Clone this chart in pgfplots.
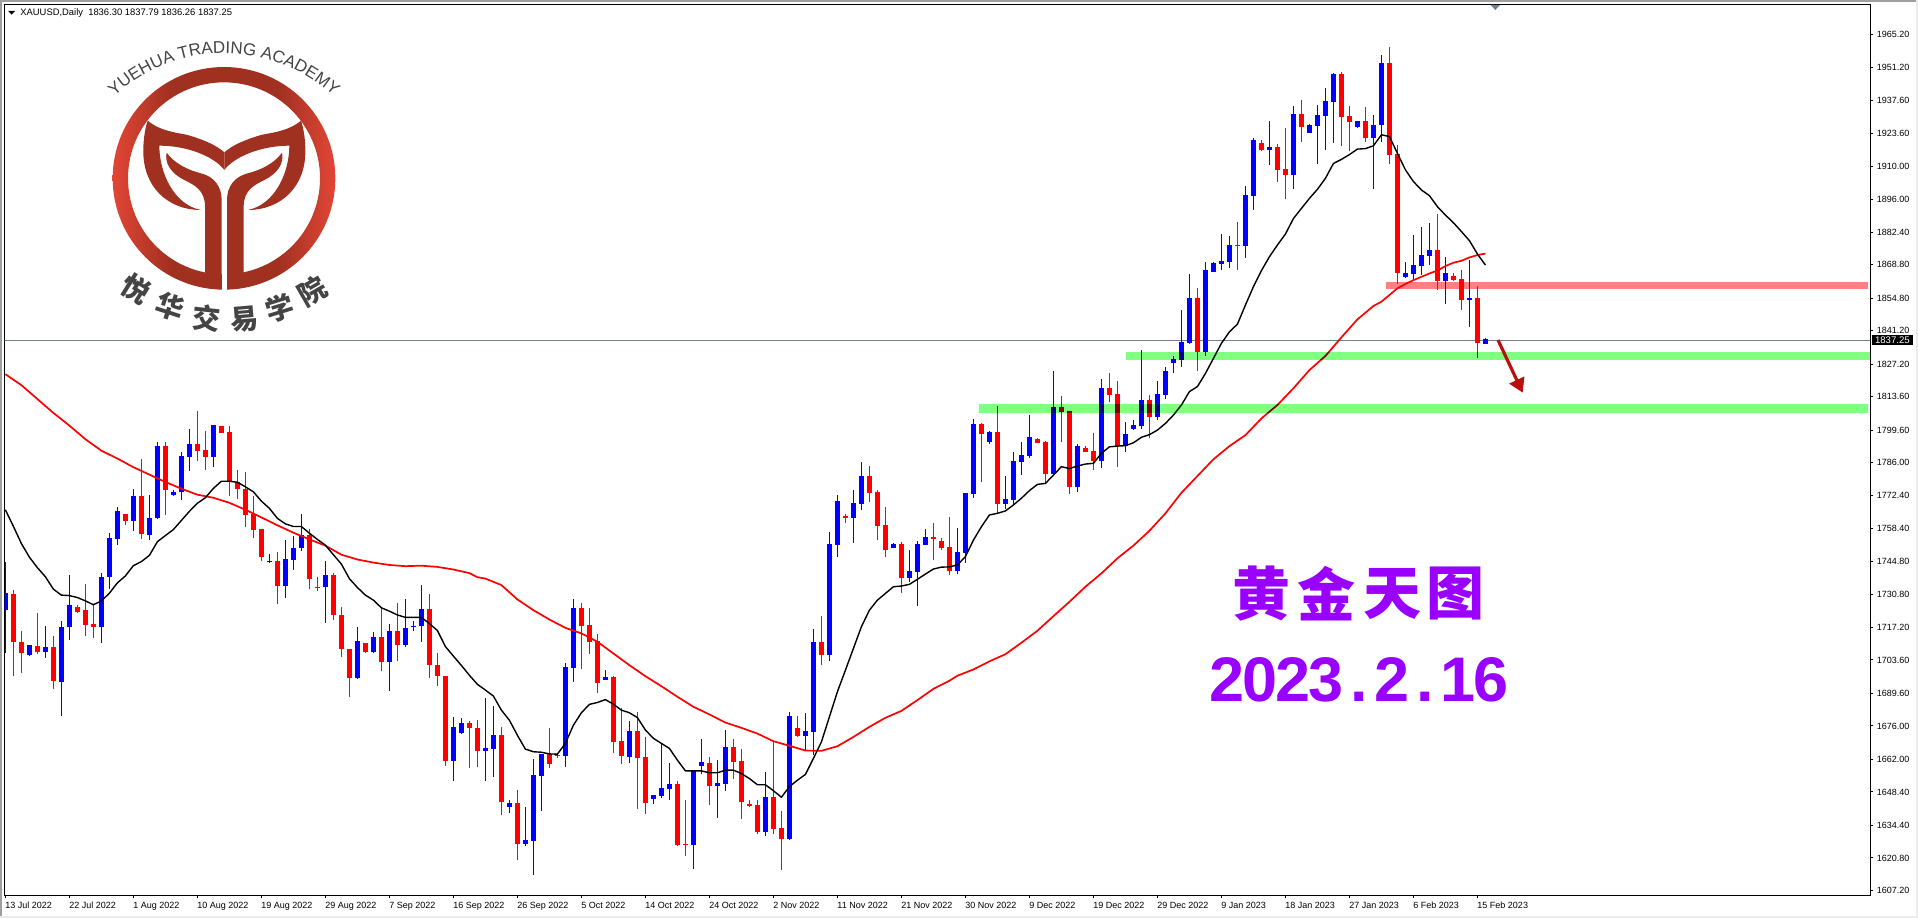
\documentclass[border=0pt]{standalone}
\usepackage{pgfplots}
\usepackage{pgfplotstable}
\pgfplotsset{compat=1.18}
\usepackage{fontspec}
\usetikzlibrary{arrows.meta,decorations.text,shadings}
\setmainfont{Liberation Sans}
\newfontfamily\cjk{Noto Sans CJK SC}
\definecolor{bull}{RGB}{0,0,255}
\definecolor{bear}{RGB}{255,0,0}
\definecolor{lineg}{RGB}{112,128,144}
\definecolor{greenz}{RGB}{128,255,128}
\definecolor{redz}{RGB}{255,128,128}
\definecolor{purp}{RGB}{153,0,255}
\definecolor{logo}{RGB}{160,48,32}
\definecolor{logoe}{RGB}{226,70,54}
\definecolor{logot}{RGB}{68,68,68}
\definecolor{arrowc}{RGB}{185,15,15}
\pgfdeclarehorizontalshading{ringsh}{100bp}{color(0bp)=(logoe); color(25bp)=(logoe); color(38bp)=(logo); color(62bp)=(logo); color(75bp)=(logoe); color(100bp)=(logoe)}

\pgfplotstableread{
i h t b l
0 1744.7 1731.5 1724.3 1706.3
3 1710.0 1709.8 1705.7 1705.4
5 1717.9 1709.2 1707.0 1704.3
7 1719.7 1717.5 1694.2 1680.0
8 1738.9 1726.7 1717.2 1711.8
12 1739.8 1738.1 1717.2 1710.5
13 1756.5 1754.5 1738.2 1733.2
14 1767.4 1765.7 1754.2 1751.6
16 1774.9 1772.0 1761.7 1757.5
18 1772.4 1763.1 1755.8 1753.7
19 1794.6 1793.0 1762.8 1762.4
21 1774.7 1774.0 1772.4 1772.1
22 1790.4 1788.7 1773.9 1770.4
23 1800.0 1793.7 1788.5 1782.6
26 1801.8 1801.8 1788.5 1784.1
33 1747.7 1745.1 1744.8 1744.1
35 1753.6 1745.6 1734.5 1729.7
36 1755.6 1750.6 1745.3 1741.4
37 1764.8 1755.8 1750.3 1749.1
40 1745.1 1738.9 1734.1 1719.2
44 1717.5 1711.6 1696.2 1695.5
46 1715.1 1713.3 1707.0 1706.6
48 1718.8 1715.8 1702.6 1690.5
50 1728.9 1717.1 1709.8 1708.9
51 1719.7 1717.9 1717.5 1715.9
52 1734.8 1724.7 1717.7 1710.9
56 1679.8 1675.7 1661.2 1653.1
57 1679.4 1677.3 1673.1 1672.8
60 1687.6 1666.7 1665.4 1653.0
61 1684.4 1672.1 1666.4 1654.6
63 1645.0 1643.7 1642.2 1639.7
65 1642.2 1628.3 1626.5 1625.8
66 1662.1 1655.4 1628.0 1613.6
67 1664.2 1664.2 1655.1 1640.5
70 1702.2 1700.6 1663.5 1658.9
71 1729.0 1725.2 1700.3 1694.4
75 1699.3 1696.4 1695.4 1695.1
78 1678.0 1673.8 1663.1 1660.6
81 1647.0 1647.0 1645.4 1643.4
82 1668.7 1650.0 1646.7 1645.7
83 1660.4 1651.7 1649.7 1645.1
86 1657.5 1657.2 1626.3 1616.2
87 1670.5 1660.9 1659.2 1656.0
89 1661.7 1652.1 1651.0 1637.6
90 1674.3 1667.1 1651.8 1648.9
95 1656.7 1646.2 1631.7 1630.1
98 1681.8 1680.1 1628.8 1628.4
100 1681.4 1673.8 1671.8 1665.9
101 1716.5 1711.0 1673.5 1663.8
103 1757.0 1752.0 1705.8 1703.2
104 1772.5 1770.0 1751.8 1746.7
106 1774.6 1769.2 1763.0 1752.6
107 1786.3 1780.5 1768.9 1766.4
111 1752.4 1752.0 1750.5 1750.4
113 1749.5 1740.8 1738.0 1736.3
114 1753.3 1752.0 1740.5 1726.3
115 1758.3 1755.0 1751.8 1751.8
119 1758.7 1748.7 1740.9 1739.6
120 1773.4 1773.4 1748.4 1744.2
121 1804.3 1802.2 1773.1 1771.4
123 1799.3 1798.9 1794.7 1794.0
125 1780.5 1770.9 1768.8 1766.7
126 1790.5 1786.8 1770.5 1768.8
127 1794.7 1789.3 1786.4 1781.1
128 1806.0 1796.8 1788.9 1788.2
131 1824.4 1809.4 1781.3 1780.9
134 1793.9 1793.0 1776.0 1773.9
137 1821.1 1817.3 1786.8 1784.0
140 1803.1 1798.1 1793.2 1790.5
141 1803.9 1801.8 1800.2 1799.7
142 1833.2 1812.3 1801.4 1800.3
144 1820.2 1814.8 1805.2 1804.1
145 1826.1 1824.4 1814.4 1812.7
146 1830.7 1829.4 1827.7 1823.5
147 1849.9 1836.5 1829.0 1826.1
148 1865.0 1854.9 1836.1 1835.7
150 1870.0 1866.6 1832.5 1830.8
151 1870.0 1869.6 1865.9 1865.9
152 1881.7 1870.4 1869.1 1866.6
153 1880.8 1877.1 1870.0 1867.5
155 1901.8 1898.0 1876.7 1871.6
156 1921.8 1921.0 1897.6 1891.7
158 1928.9 1918.1 1916.8 1910.5
161 1935.2 1931.9 1906.4 1900.5
163 1927.7 1927.3 1923.9 1923.9
164 1935.6 1931.5 1926.9 1911.0
165 1942.7 1937.3 1931.0 1916.8
166 1949.0 1948.6 1936.9 1919.7
169 1928.9 1928.9 1926.4 1926.0
171 1931.5 1927.3 1921.8 1900.5
172 1956.5 1953.2 1927.3 1920.2
175 1870.0 1865.4 1863.7 1863.3
176 1881.3 1868.7 1865.0 1862.4
177 1884.6 1872.9 1868.3 1864.5
178 1886.3 1875.0 1872.5 1868.7
180 1872.1 1865.4 1862.0 1852.4
183 1870.8 1854.9 1854.1 1842.8
185 1838.0 1837.6 1835.7 1835.7
}\bluebars

\pgfplotstableread{
i h t b l
1 1733.0 1731.3 1710.9 1696.7
2 1715.8 1711.2 1706.3 1698.0
4 1723.4 1709.6 1707.0 1705.9
6 1713.8 1709.2 1694.7 1691.6
9 1726.7 1725.9 1723.8 1723.4
10 1735.5 1724.3 1718.1 1713.8
11 1727.1 1718.8 1717.2 1712.6
15 1764.8 1764.8 1761.7 1759.9
17 1787.5 1772.0 1756.2 1754.0
20 1794.6 1793.0 1774.6 1764.1
24 1807.7 1793.7 1791.0 1786.8
25 1799.2 1791.3 1788.5 1783.1
27 1801.3 1801.3 1798.6 1798.6
28 1801.3 1798.7 1778.2 1772.1
29 1782.9 1778.2 1775.0 1770.7
30 1782.1 1775.2 1764.2 1759.1
31 1772.0 1764.5 1757.9 1754.6
32 1758.2 1758.2 1746.6 1744.8
34 1748.6 1745.1 1734.5 1726.9
38 1758.2 1755.9 1737.4 1733.2
39 1738.1 1734.2 1733.9 1732.5
41 1740.1 1738.9 1722.3 1720.2
42 1725.9 1722.5 1708.0 1704.7
43 1708.3 1708.3 1696.2 1687.9
45 1710.8 1710.8 1707.0 1706.7
47 1725.7 1713.3 1702.6 1698.8
49 1727.6 1715.8 1709.8 1703.0
53 1731.3 1724.7 1701.3 1696.2
54 1706.6 1701.6 1696.7 1692.5
55 1697.0 1697.0 1661.2 1659.4
58 1678.0 1677.3 1675.0 1658.6
59 1678.6 1675.2 1665.5 1658.9
62 1675.5 1672.1 1644.3 1638.8
64 1649.2 1643.7 1626.7 1620.0
68 1675.1 1664.2 1660.1 1658.5
69 1664.5 1663.8 1663.3 1662.6
72 1727.3 1725.2 1717.9 1699.9
73 1725.2 1718.1 1711.2 1706.1
74 1714.4 1711.4 1694.0 1689.8
76 1696.8 1696.4 1669.3 1664.7
77 1683.4 1669.6 1663.5 1660.1
79 1681.8 1673.8 1662.7 1641.3
80 1671.3 1662.9 1643.8 1639.3
84 1652.9 1651.7 1626.2 1625.8
85 1645.0 1626.5 1626.3 1621.7
88 1662.9 1660.4 1651.0 1643.0
91 1670.5 1667.1 1661.0 1653.9
92 1666.3 1661.3 1644.3 1637.2
93 1645.0 1643.3 1642.5 1642.2
94 1645.0 1642.9 1631.7 1630.9
96 1669.3 1646.2 1633.0 1630.9
97 1640.5 1633.3 1628.8 1615.8
99 1680.1 1675.0 1671.9 1671.3
102 1721.9 1711.0 1705.8 1701.4
105 1764.6 1763.7 1763.0 1760.8
108 1784.7 1780.5 1773.5 1769.6
109 1774.6 1773.8 1759.7 1753.9
110 1767.5 1760.0 1749.7 1746.7
112 1752.9 1752.0 1738.0 1731.7
116 1760.8 1755.0 1754.1 1745.5
117 1754.5 1753.3 1750.5 1749.7
118 1763.3 1750.8 1740.9 1739.2
122 1802.7 1802.2 1798.2 1778.1
124 1809.8 1798.9 1768.9 1764.9
129 1796.4 1796.0 1794.3 1794.3
130 1795.1 1794.7 1781.5 1777.6
132 1814.0 1809.4 1807.2 1794.7
133 1807.7 1807.7 1776.0 1773.0
135 1793.0 1792.2 1790.5 1790.5
136 1798.5 1791.0 1786.8 1783.0
138 1823.6 1817.3 1814.4 1811.4
139 1820.2 1814.8 1793.0 1784.4
143 1814.4 1812.3 1805.2 1796.5
149 1859.1 1854.9 1832.3 1824.4
154 1886.7 1877.1 1876.7 1866.6
157 1921.0 1919.7 1916.8 1916.4
159 1919.3 1918.1 1908.5 1903.4
160 1926.0 1908.9 1906.4 1896.3
162 1937.7 1931.9 1926.4 1920.2
167 1949.4 1948.6 1930.6 1918.5
168 1935.2 1931.0 1928.5 1916.4
170 1934.8 1928.9 1921.8 1920.2
173 1959.9 1953.2 1914.7 1911.0
174 1918.9 1915.1 1865.4 1860.8
179 1890.1 1875.0 1862.0 1858.3
181 1865.4 1864.1 1862.4 1862.0
182 1866.6 1862.9 1854.1 1849.9
184 1859.9 1854.9 1836.1 1829.8
}\redbars

\pgfplotstableread{
i v
0 1766.4
1 1759.5
2 1752.3
3 1746.6
4 1742.2
5 1738.4
6 1733.2
7 1730.7
8 1730.5
9 1729.7
10 1728.3
11 1726.7
12 1728.2
13 1731.5
14 1735.8
15 1738.7
16 1743.0
17 1744.7
18 1747.3
19 1753.0
20 1755.6
21 1758.1
22 1761.9
23 1765.7
24 1769.1
25 1771.4
26 1775.3
27 1778.3
28 1778.3
29 1777.9
30 1776.0
31 1773.9
32 1770.0
33 1767.0
34 1762.8
35 1760.5
36 1759.4
37 1759.4
38 1756.6
39 1754.0
40 1751.6
41 1747.6
42 1743.7
43 1737.6
44 1733.9
45 1730.7
46 1728.6
47 1725.4
48 1724.0
49 1722.4
50 1721.4
51 1721.4
52 1721.4
53 1718.8
54 1715.9
55 1709.2
56 1705.2
57 1701.3
58 1697.2
59 1693.4
60 1691.0
61 1688.5
62 1682.6
63 1678.4
64 1672.1
65 1666.3
66 1665.2
67 1665.0
68 1664.3
69 1664.2
70 1668.7
71 1676.3
72 1681.5
73 1685.0
74 1685.8
75 1687.0
76 1685.1
77 1682.6
78 1681.5
79 1679.5
80 1674.3
81 1670.8
82 1668.7
83 1666.6
84 1661.7
85 1657.2
86 1657.2
87 1657.2
88 1656.4
89 1656.4
90 1657.5
91 1657.5
92 1656.1
93 1654.0
94 1651.4
95 1651.4
96 1648.9
97 1646.2
98 1650.6
99 1653.3
100 1655.7
101 1662.4
102 1669.3
103 1679.8
104 1690.3
105 1699.3
106 1708.4
107 1717.5
108 1724.4
109 1728.6
110 1731.4
111 1734.2
112 1734.5
113 1735.2
114 1737.3
115 1739.5
116 1741.6
117 1742.4
118 1742.5
119 1743.3
120 1746.8
121 1753.7
122 1759.3
123 1764.2
124 1764.9
125 1765.9
126 1768.4
127 1771.2
128 1774.4
129 1777.0
130 1777.4
131 1780.9
132 1784.4
133 1783.6
134 1784.7
135 1785.5
136 1785.8
137 1790.0
138 1792.7
139 1793.0
140 1793.2
141 1794.4
142 1796.7
143 1797.8
144 1799.7
145 1802.5
146 1806.0
147 1810.2
148 1815.8
149 1817.9
150 1823.4
151 1829.7
152 1836.0
153 1840.8
154 1844.0
155 1852.0
156 1859.7
157 1866.4
158 1872.2
159 1877.1
160 1881.7
161 1888.2
162 1892.4
163 1896.6
164 1900.4
165 1905.0
166 1911.2
167 1912.9
168 1914.9
169 1917.2
170 1917.4
171 1918.6
172 1923.2
173 1922.4
174 1915.4
175 1908.5
176 1903.6
177 1900.1
178 1897.7
179 1893.1
180 1889.6
181 1886.4
182 1882.7
183 1878.9
184 1873.3
185 1868.7
}\fastma

\pgfplotstableread{
i v
0 1823.1
2 1818.5
4 1812.7
6 1806.9
8 1801.6
10 1795.9
12 1791.1
14 1787.8
16 1784.2
18 1781.1
20 1778.0
22 1775.2
24 1772.7
26 1771.4
28 1769.3
30 1766.4
32 1763.2
34 1759.9
36 1756.8
38 1754.0
40 1751.4
42 1747.6
44 1745.6
46 1744.3
48 1743.3
50 1742.8
52 1743.0
54 1742.5
56 1741.4
58 1739.9
59 1738.2
60 1737.6
62 1734.9
64 1728.9
66 1724.4
68 1720.5
70 1717.0
72 1714.7
74 1711.2
76 1706.3
78 1701.4
80 1696.8
82 1692.6
84 1688.2
86 1684.0
88 1680.8
90 1677.4
92 1675.2
94 1672.8
96 1669.6
98 1667.7
100 1665.7
102 1665.6
104 1667.5
106 1671.4
108 1675.6
110 1679.4
112 1682.3
114 1686.8
116 1691.5
118 1694.9
119 1697.0
121 1699.6
123 1703.0
125 1706.0
127 1710.8
129 1715.8
131 1721.9
133 1727.9
135 1734.2
137 1739.8
139 1746.1
141 1751.4
143 1757.6
145 1764.9
147 1773.5
149 1780.5
151 1787.5
153 1793.0
155 1797.6
157 1804.6
159 1810.2
161 1817.2
163 1824.8
165 1830.7
167 1838.5
169 1846.0
171 1851.6
172 1853.4
173 1856.2
174 1859.0
175 1860.8
176 1862.4
177 1863.8
178 1865.2
179 1866.4
180 1868.3
181 1869.7
182 1870.5
183 1871.9
184 1872.9
185 1873.5
}\slowma

\newcommand{\dg}[1]{\makebox[16.5pt]{#1}}
\newcommand{\logohalf}{%
  \fill[logo] (-230,362) .. controls (-190,395) and (-140,398) .. (-110,405)
    .. controls (-60,420) and (-25,435) .. (0,457) -- (0,510)
    .. controls (-30,470) and (-110,437) .. (-195,437)
    .. controls (-195,520) and (-150,615) .. (-70,630)
    .. controls (-170,630) and (-245,560) .. (-243,450)
    .. controls (-243,420) and (-238,385) .. (-230,362) -- cycle;
  \fill[logo] (-173,458) .. controls (-150,490) and (-110,510) .. (-70,520)
    .. controls (-30,530) and (-8,560) .. (-8,600) -- (-8,840)
    .. controls (-8,860) and (-30,868) .. (-45,865) -- (-58,815) -- (-58,620)
    .. controls (-58,570) and (-90,555) .. (-120,540)
    .. controls (-160,520) and (-180,490) .. (-173,458) -- cycle;
}

\begin{document}
\begin{tikzpicture}
\path[use as bounding box] (0,0) rectangle (959pt,459pt);
\begin{axis}[
  at={(2.35pt,11.5pt)}, anchor=south west,
  scale only axis, width=932.8pt, height=445.25pt,
  xmin=-0.08, xmax=233.1, ymin=1605.3, ymax=1977.66,
  axis line style={black,line width=0.5pt},
  tick style={black,line width=0.5pt},
  tick align=outside, major tick length=1.5pt,
  xtick pos=lower, ytick pos=upper,
  xticklabel pos=lower, yticklabel pos=upper,
  xtick={0,8,...,184},
  xticklabels={13 Jul 2022,22 Jul 2022,1 Aug 2022,10 Aug 2022,19 Aug 2022,29 Aug 2022,7 Sep 2022,16 Sep 2022,26 Sep 2022,5 Oct 2022,14 Oct 2022,24 Oct 2022,2 Nov 2022,11 Nov 2022,21 Nov 2022,30 Nov 2022,9 Dec 2022,19 Dec 2022,29 Dec 2022,9 Jan 2023,18 Jan 2023,27 Jan 2023,6 Feb 2023,15 Feb 2023},
  ytick={1607.2,1620.8,1634.4,1648.4,1662,1676,1689.6,1703.6,1717.2,1730.8,1744.8,1758.4,1772.4,1786,1799.6,1813.6,1827.2,1841.2,1854.8,1868.8,1882.4,1896,1910,1923.6,1937.6,1951.2,1965.2},
  x tick label style={font=\fontsize{4.5}{5}\selectfont,anchor=north west,inner sep=0pt,xshift=-0.2pt,yshift=-1.8pt},
  y tick label style={font=\fontsize{4.5}{5}\selectfont,anchor=west,inner sep=0pt,xshift=1.6pt},
  yticklabel style={/pgf/number format/.cd,fixed,fixed zerofill,precision=2,1000 sep={},assume math mode=true},
  scaled y ticks=false,
  clip=true]
\addplot[lineg,line width=0.5pt,forget plot] coordinates {(-1,1837.25) (234,1837.25)};
% wicks
\addplot[draw=none,mark=none,forget plot,error bars/.cd,y dir=both,y explicit,error mark=none,error bar style={line width=0.5pt,color=bull}]
  table[x=i,y=t,y error plus expr=\thisrow{h}-\thisrow{t},y error minus expr=\thisrow{t}-\thisrow{l}] {\bluebars};
\addplot[draw=none,mark=none,forget plot,error bars/.cd,y dir=both,y explicit,error mark=none,error bar style={line width=0.5pt,color=bear}]
  table[x=i,y=t,y error plus expr=\thisrow{h}-\thisrow{t},y error minus expr=\thisrow{t}-\thisrow{l}] {\redbars};
% bodies
\addplot[draw=none,mark=none,forget plot,error bars/.cd,y dir=minus,y explicit,error mark=none,error bar style={line width=2.5pt,color=bull}]
  table[x=i,y=t,y error minus expr=\thisrow{t}-\thisrow{b}] {\bluebars};
\addplot[draw=none,mark=none,forget plot,error bars/.cd,y dir=minus,y explicit,error mark=none,error bar style={line width=2.5pt,color=bear}]
  table[x=i,y=t,y error minus expr=\thisrow{t}-\thisrow{b}] {\redbars};
% moving averages
\addplot[bear,line width=0.85pt,forget plot] table[x=i,y=v] {\slowma};
\addplot[black,line width=0.7pt,forget plot] table[x=i,y=v] {\fastma};
% zones
\addplot[draw=none,fill=greenz,forget plot,/tikz/blend mode=multiply] coordinates {(140.1,1832.3) (233.1,1832.3) (233.1,1829.1) (140.1,1829.1)} -- cycle;
\addplot[draw=none,fill=greenz,forget plot,/tikz/blend mode=multiply] coordinates {(121.7,1810.6) (232.8,1810.6) (232.8,1806.8) (121.7,1806.8)} -- cycle;
\addplot[draw=none,fill=redz,forget plot,/tikz/blend mode=multiply] coordinates {(172.6,1861.5) (232.8,1861.5) (232.8,1858.8) (172.6,1858.8)} -- cycle;
\end{axis}

% pixel overlay, origin at the top left
\begin{scope}[x=0.5pt,y=-0.5pt,shift={(0pt,459pt)}]
  \fill[gray!75] (0,0) rectangle (1918,2);
  \fill[gray!75] (0,0) rectangle (1.5,918);
  \fill[gray!15] (0,916) rectangle (1918,918);
  \fill[gray!15] (1915.5,0) rectangle (1918,918);
  \fill[black] (8.3,11) -- (15,11) -- (11.6,14.7) -- cycle;
  \node[anchor=west,inner sep=0pt,font=\fontsize{4.7}{5}\selectfont] at (20,12.7) {XAUUSD,Daily\ \ 1836.30 1837.79 1836.26 1837.25};
  \fill[lineg] (1490.7,5) -- (1500,5) -- (1495.3,10) -- cycle;
  \node[fill=black,text=white,anchor=center,inner sep=0pt,minimum width=20.4pt,minimum height=5pt,font=\fontsize{4.8}{5}\selectfont] at (1892.4,340) {1837.25};
  \draw[arrowc,line width=1.6pt,-{Triangle[length=7pt,width=8pt]}] (1498,340) -- (1522.7,392.7);
  \foreach \c/\x in {黄/1261.7,金/1326.7,天/1392.7,图/1455.7}
    \node[text=purp,inner sep=0pt,font=\cjk\bfseries\fontsize{29}{30}\selectfont] at (\x,594) {\c};
  \node[text=purp,anchor=base west,inner sep=0pt,font=\bfseries\fontsize{31.5}{32}\selectfont] at (1210,701.7)
    {\dg{2}\dg{0}\dg{2}\dg{3}\dg{.}\dg{2}\dg{.}\dg{1}\dg{6}};
\end{scope}

% logo
\begin{scope}[shift={(112.17pt,459pt)},x=0.16667pt,y=-0.16667pt]
  \shade[even odd rule,shading=ringsh]
    (-1,535) circle[radius=334] (-1,535) circle[radius=288];
  \fill[white] (-8,790) rectangle (9,880);
  \logohalf
  \begin{scope}[xscale=-1]\logohalf\end{scope}
  \foreach \c/\x/\y/\r in {悦/-265/868/-32,华/-162/920/-18,交/-52/955/-6,易/62/958/5,学/165/925/17,院/263/872/30}
    \node[text=logot,inner sep=0pt,rotate=\r,font=\cjk\bfseries\fontsize{14}{15}\selectfont] at (\x,\y) {\c};
\end{scope}
\path[decorate,decoration={text along path,text align=center,
    text={|\fontsize{8.5}{8.5}\selectfont\color{logot}|YUEHUA TRADING ACADEMY}}]
  ([shift={(112pt,351.83pt)}]137:80.5pt) arc[start angle=137,end angle=43,radius=80.5pt];
\end{tikzpicture}
\end{document}
